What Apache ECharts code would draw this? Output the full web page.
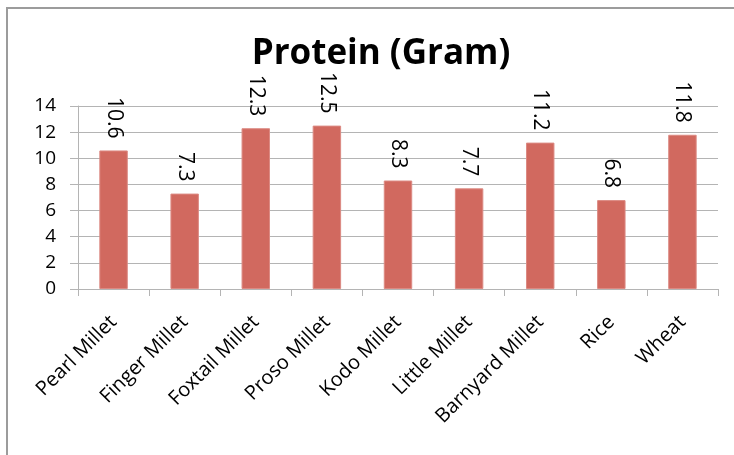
<!DOCTYPE html>
<html>
<head>
<meta charset="utf-8">
<script src="https://cdn.jsdelivr.net/npm/echarts@6/dist/echarts.min.js"></script>
<style>
  html, body { margin: 0; padding: 0; background: #fff; }
  #chart { width: 734px; height: 455px; }
</style>
</head>
<body>
<div id="chart"></div>
<script>
// Protein content per grain (grams)
const categories = ['Pearl Millet', 'Finger Millet', 'Foxtail Millet', 'Proso Millet', 'Kodo Millet',
                    'Little Millet', 'Barnyard Millet', 'Rice', 'Wheat'];
const protein = [10.6, 7.3, 12.3, 12.5, 8.3, 7.7, 11.2, 6.8, 11.8];
const yTicks = { min: 0, max: 14, step: 2 };

const FONT = '"Open Sans", sans-serif';
const GRID_COLOR = '#B4B4B4';

const chart = echarts.init(document.getElementById('chart'), null, { renderer: 'canvas' });
chart.setOption({
  animation: false,
  backgroundColor: '#ffffff',
  title: {
    text: 'Protein (Gram)',
    left: 376,
    top: 32,
    textAlign: 'center',
    textStyle: { fontFamily: FONT, fontWeight: 'bold', fontSize: 35, color: '#000' }
  },
  graphic: [{
    type: 'rect',
    shape: { x: 7, y: 8, width: 900, height: 700 },
    style: { fill: 'none', stroke: '#9C9C9C', lineWidth: 2 },
    silent: true
  }],
  grid: { left: 78, right: 16, top: 106, bottom: 166, containLabel: false },
  xAxis: {
    type: 'category',
    data: categories,
    boundaryGap: true,
    axisLine: { lineStyle: { color: GRID_COLOR, width: 1 } },
    axisTick: { show: true, length: 7, alignWithLabel: false, lineStyle: { color: GRID_COLOR } },
    axisLabel: {
      interval: 0,
      rotate: 45,
      margin: 30,
      fontFamily: FONT,
      fontSize: 20,
      color: '#000'
    }
  },
  yAxis: {
    type: 'value',
    min: yTicks.min,
    max: yTicks.max,
    interval: yTicks.step,
    axisLine: { show: true, lineStyle: { color: GRID_COLOR, width: 1 } },
    axisTick: { show: true, length: 8, lineStyle: { color: GRID_COLOR } },
    splitLine: { show: true, lineStyle: { color: GRID_COLOR, width: 1 } },
    axisLabel: { margin: 22, fontFamily: FONT, fontSize: 19, color: '#000' }
  },
  series: [{
    type: 'bar',
    data: protein,
    barWidth: '40%',
    itemStyle: { color: '#D1695F', borderColor: '#DC8A83', borderWidth: 1 },
    label: {
      show: true,
      position: 'top',
      distance: 12,
      rotate: -90,
      align: 'right',
      verticalAlign: 'middle',
      fontFamily: FONT,
      fontSize: 21,
      color: '#000'
    }
  }]
});
</script>
</body>
</html>
